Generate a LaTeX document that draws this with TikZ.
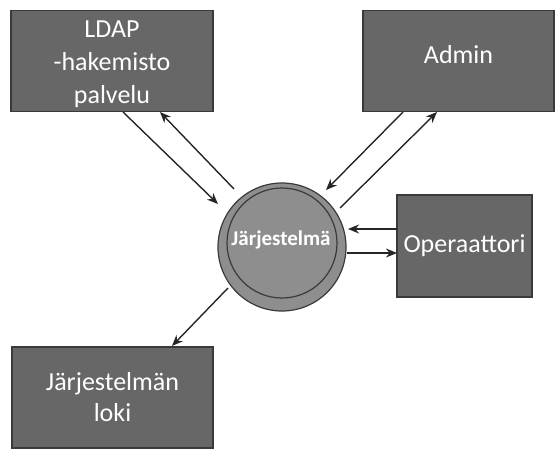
\documentclass[tikz,border=0pt]{standalone}
\usepackage{fontspec}
\setmainfont{Carlito}
\usetikzlibrary{arrows.meta}
\definecolor{boxfill}{HTML}{676767}
\definecolor{boxline}{HTML}{3A3A3A}
\definecolor{ringfill}{HTML}{8E8E8E}
\definecolor{arrowcol}{HTML}{262626}
\begin{document}
\begin{tikzpicture}[x=1pt,y=-1pt,
  entity/.style={draw=boxline, line width=1.2pt, fill=boxfill, text=white,
    font=\fontsize{26}{33}\selectfont, align=center, inner sep=0pt},
  flow/.style={draw=arrowcol, line width=1.4pt,
    -{Stealth[length=11pt,width=9pt,inset=3.5pt]}}]
  \useasboundingbox (0,0) rectangle (555,450);

  % external entities
  \node[entity, minimum width=202pt, minimum height=101pt] (ldap) at (112,61) {};
  \node[text=white, font=\fontsize{26}{33}\selectfont, align=center]
    (ldaptxt) at (112,64) {LDAP\\-hakemisto\\palvelu};
  \node[entity, minimum width=191pt, minimum height=101pt] (admin) at (458.5,61)
    {\raisebox{14pt}{Admin}};
  \node[entity, minimum width=135pt, minimum height=102pt] (oper) at (464.5,246)
    {Operaattori};
  \node[entity, minimum width=201pt, minimum height=101pt,
    font=\fontsize{26}{31}\selectfont] (loki) at (112.5,397.5)
    {Järjestelmän\\loki};

  % central process
  \node[circle, draw=boxline, line width=1.2pt, fill=ringfill,
    minimum size=128pt, inner sep=0pt] (sys) at (282,247) {};
  \node[circle, draw=boxline, line width=1.2pt, fill=ringfill,
    minimum size=110pt, inner sep=0pt] (core) at (282,243) {};
  \node[text=white, font=\fontsize{21}{24}\selectfont\bfseries] (lbl) at (281,240)
    {Järjestelmä};

  % anchor points on the boxes
  \coordinate (ldapA) at (123,112);
  \coordinate (ldapB) at (160,112);
  \coordinate (adminA) at (403,112);
  \coordinate (adminB) at (437,112);
  \coordinate (operA) at (397,229);
  \coordinate (operB) at (397,253);
  \coordinate (lokiA) at (172,346);

  % anchor points on the circle
  \coordinate (sysL1) at (218,204);
  \coordinate (sysL2) at (234,189);
  \coordinate (sysA1) at (326,190);
  \coordinate (sysA2) at (340,208);
  \coordinate (sysO1) at (348,229);
  \coordinate (sysO2) at (347,253);
  \coordinate (sysD) at (228,288);

  % data flows
  \draw[flow] (ldapA) -- (sysL1);
  \draw[flow] (sysL2) -- (ldapB);
  \draw[flow] (adminA) -- (sysA1);
  \draw[flow] (sysA2) -- (adminB);
  \draw[flow] (operA) -- (sysO1);
  \draw[flow] (sysO2) -- (operB);
  \draw[flow] (sysD) -- (lokiA);
\end{tikzpicture}
\end{document}
